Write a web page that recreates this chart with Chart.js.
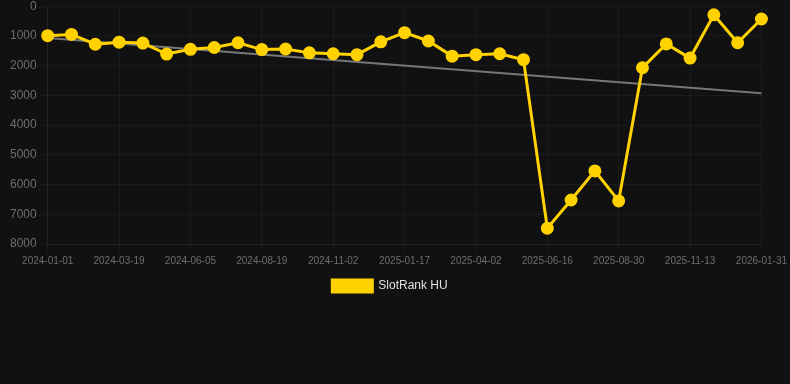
<!DOCTYPE html>
<html>
<head>
<meta charset="utf-8">
<script src="https://cdn.jsdelivr.net/npm/chart.js@4/dist/chart.umd.min.js"></script>
<style>
  html, body { margin: 0; padding: 0; background: #111111; overflow: hidden; }
  .wrap { width: 790px; height: 384px; position: relative; overflow: hidden; }
  .box { width: 790px; height: 306px; position: absolute; left: 0; top: -4px; }
</style>
</head>
<body>
<div class="wrap">
  <div class="box"><canvas id="chart"></canvas></div>
</div>
<script>
// dates on the x axis (only every 3rd one is shown)
const dates = [
  '2024-01-01', '2024-01-27', '2024-02-22', '2024-03-19', '2024-04-14', '2024-05-10',
  '2024-06-05', '2024-06-30', '2024-07-25', '2024-08-19', '2024-09-13', '2024-10-08',
  '2024-11-02', '2024-11-27', '2024-12-23', '2025-01-17', '2025-02-11', '2025-03-08',
  '2025-04-02', '2025-04-27', '2025-05-22', '2025-06-16', '2025-07-11', '2025-08-05',
  '2025-08-30', '2025-09-24', '2025-10-19', '2025-11-13', '2025-12-09', '2026-01-05',
  '2026-01-31'
];

// rank values (lower = better, axis is reversed)
const rankHU = [
  990, 950, 1280, 1210, 1240, 1610, 1450, 1390, 1230, 1460, 1440, 1570,
  1600, 1630, 1200, 890, 1170, 1680, 1630, 1600, 1800, 7470, 6520, 5540,
  6550, 2070, 1270, 1745, 290, 1230, 430
];

// trend line end points
const trendStart = 1070;
const trendEnd = 2930;

const yTicks = [0, 1000, 2000, 3000, 4000, 5000, 6000, 7000, 8000];

const yellow = '#ffd200';
const gridColor = 'rgba(255,255,255,0.045)';
const tickColor = '#6e6e6e';
const font = 'Arial, "Liberation Sans", sans-serif';

new Chart(document.getElementById('chart'), {
  type: 'line',
  data: {
    labels: dates,
    datasets: [
      {
        label: 'SlotRank HU',
        data: rankHU,
        borderColor: yellow,
        backgroundColor: yellow,
        borderWidth: 3,
        pointRadius: 5,
        pointHoverRadius: 6,
        tension: 0
      },
      {
        label: 'trend',
        data: [
          { x: dates[0], y: trendStart },
          { x: dates[dates.length - 1], y: trendEnd }
        ],
        borderColor: '#777777',
        borderWidth: 2,
        pointRadius: 0,
        tension: 0
      }
    ]
  },
  options: {
    responsive: true,
    maintainAspectRatio: false,
    animation: false,
    layout: { padding: { left: 7, right: 17, top: 0, bottom: 0 } },
    plugins: {
      legend: {
        position: 'bottom',
        labels: {
          color: '#e0e0e0',
          boxWidth: 40,
          boxHeight: 12,
          font: { family: font, size: 12 },
          filter: item => item.text !== 'trend'
        }
      },
      tooltip: { enabled: false }
    },
    scales: {
      x: {
        grid: {
          color: ctx => (ctx.index % 3 === 0 ? gridColor : 'rgba(0,0,0,0)')
        },
        border: { color: gridColor },
        ticks: {
          color: tickColor,
          font: { family: font, size: 10 },
          maxRotation: 0,
          autoSkip: false,
          callback: function (val, i) { return i % 3 === 0 ? dates[i] : ''; }
        }
      },
      y: {
        reverse: true,
        min: 0,
        max: 8000,
        afterBuildTicks: axis => { axis.ticks = yTicks.map(v => ({ value: v })); },
        grid: { color: gridColor },
        border: { color: gridColor },
        ticks: {
          color: tickColor,
          font: { family: font, size: 12 },
          callback: v => String(v)
        }
      }
    }
  }
});
</script>
</body>
</html>
